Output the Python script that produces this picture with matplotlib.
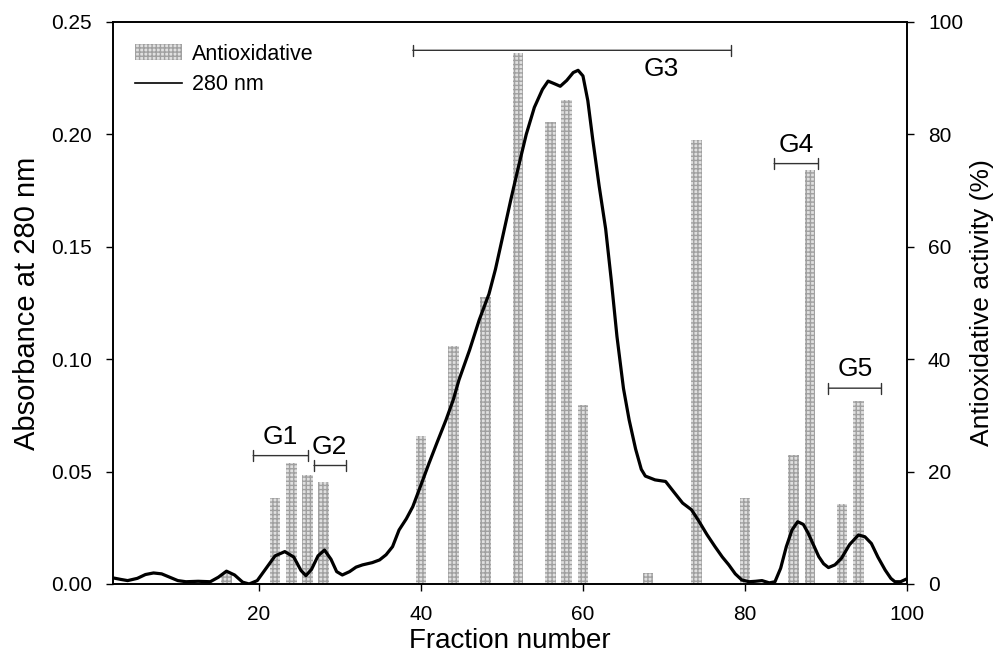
import matplotlib
matplotlib.use("Agg")
import matplotlib.pyplot as plt
from matplotlib.patches import Patch
from matplotlib.lines import Line2D

plt.rcParams['font.family'] = ['Liberation Sans', 'DejaVu Sans']

# antioxidative activity (%) per fraction
fractions = [16, 22, 24, 26, 28, 40, 44, 48, 52, 56, 58, 60, 68, 74, 80, 86, 88, 92, 94]
activity = [2.0, 15.3, 21.5, 19.4, 18.2, 26.4, 42.3, 51.1, 94.4, 82.2, 86.2, 31.9,
            1.9, 79.0, 15.3, 23.0, 73.7, 14.2, 32.5]

# absorbance at 280 nm
abs_x = [2.0, 3.0, 3.8, 5.0, 6.0, 7.0, 8.0, 9.0, 10.0, 11.0, 12.5, 14.0, 15.0, 16.0,
         17.0, 18.0, 18.8, 19.8, 21.0, 22.0, 23.2, 24.3, 25.2, 25.8, 26.5, 27.3, 28.1,
         28.9, 29.6, 30.3, 31.2, 32.0, 32.8, 34.0, 34.9, 35.7, 36.5, 37.3, 38.2, 39.0,
         40.0, 41.0, 42.0, 43.1, 44.0, 44.7, 46.0, 47.2, 48.4, 49.2, 50.0, 51.1, 52.0,
         53.0, 54.0, 55.0, 55.7, 56.5, 57.2, 58.0, 58.8, 59.4, 60.0, 60.6, 61.2, 62.0,
         62.8, 63.5, 64.2, 65.0, 65.7, 66.5, 67.2, 67.7, 68.9, 70.2, 71.2, 72.3, 73.4,
         74.3, 75.3, 76.3, 77.2, 78.0, 78.8, 79.6, 80.5, 81.3, 82.1, 83.0, 83.7, 84.4,
         85.1, 85.8, 86.5, 87.2, 87.8, 88.5, 89.1, 89.7, 90.3, 91.1, 91.9, 92.9, 94.0,
         94.8, 95.6, 96.4, 97.3, 98.0, 98.5, 99.2, 99.8]
abs_y = [0.0027, 0.0020, 0.0015, 0.0025, 0.0042, 0.0049, 0.0045, 0.0030, 0.0015, 0.0010,
         0.0012, 0.0010, 0.0030, 0.0057, 0.0040, 0.0008, 0.0000, 0.0015, 0.0075, 0.0125,
         0.0144, 0.0120, 0.0060, 0.0037, 0.0065, 0.0125, 0.0151, 0.0110, 0.0055, 0.0040,
         0.0055, 0.0075, 0.0085, 0.0095, 0.0107, 0.0130, 0.0166, 0.0240, 0.0290, 0.0344,
         0.0440, 0.0537, 0.0630, 0.0730, 0.0820, 0.0908, 0.1040, 0.1175, 0.1290, 0.1400,
         0.1530, 0.1710, 0.1850, 0.2000, 0.2120, 0.2200, 0.2237, 0.2225, 0.2214, 0.2240,
         0.2275, 0.2285, 0.2260, 0.2150, 0.1980, 0.1770, 0.1580, 0.1350, 0.1100, 0.0870,
         0.0730, 0.0600, 0.0510, 0.0480, 0.0463, 0.0456, 0.0410, 0.0360, 0.0330, 0.0280,
         0.0220, 0.0166, 0.0120, 0.0085, 0.0045, 0.0018, 0.0010, 0.0012, 0.0015, 0.0005,
         0.0010, 0.0070, 0.0166, 0.0240, 0.0277, 0.0265, 0.0226, 0.0170, 0.0122, 0.0090,
         0.0073, 0.0085, 0.0114, 0.0175, 0.0218, 0.0210, 0.0180, 0.0120, 0.0062, 0.0025,
         0.0010, 0.0010, 0.0020]

# pooled groups: label, start, end, bracket level (absorbance units)
groups = ["G1", "G2", "G3", "G4", "G5"]
g_start = [19.3, 26.8, 39.0, 83.6, 90.3]
g_end = [26.1, 30.7, 78.3, 89.0, 96.8]
g_level = [0.0571, 0.0527, 0.2374, 0.1870, 0.0871]

fig = plt.figure(figsize=(9.95, 6.58), dpi=100)
ax = fig.add_axes([0.1136, 0.1125, 0.7980, 0.8541])
ax2 = ax.twinx()

# bars on the right axis, drawn underneath the absorbance trace
ax2.bar(fractions, activity, width=1.3, color='#e0e0e0', edgecolor='#a0a0a0',
        hatch='++++', linewidth=0)
ax2.set_ylim(0, 100)
ax2.set_yticks([0, 20, 40, 60, 80, 100])
ax2.set_ylabel("Antioxidative activity (%)", fontsize=19, labelpad=5)

ax.plot(abs_x, abs_y, color='black', lw=2.3)
ax.set_zorder(ax2.get_zorder() + 1)
ax.patch.set_visible(False)

ax.set_xlim(2, 100)
ax.set_ylim(0, 0.25)
ax.set_xticks([20, 40, 60, 80, 100])
ax.set_yticks([0, 0.05, 0.10, 0.15, 0.20, 0.25])
ax.set_yticklabels(["0.00", "0.05", "0.10", "0.15", "0.20", "0.25"])
ax.set_xlabel("Fraction number", fontsize=20, labelpad=3)
ax.set_ylabel("Absorbance at 280 nm", fontsize=21, labelpad=7)

for a in (ax, ax2):
    a.tick_params(labelsize=15, length=5, width=1, direction='out', pad=10)
    for s in a.spines.values():
        s.set_linewidth(1.2)

for lab, x0, x1, lv in zip(groups, g_start, g_end, g_level):
    ax.annotate('', xy=(x0, lv), xytext=(x1, lv),
                arrowprops=dict(arrowstyle='|-|,widthA=0.4,widthB=0.4',
                                lw=1, color='#333333', shrinkA=0, shrinkB=0))
    if lab == "G3":
        ax.text(69.7, lv - 0.003, lab, ha='center', va='top', fontsize=19)
    else:
        ax.text((x0 + x1) / 2, lv + 0.003, lab, ha='center', va='bottom', fontsize=19)

handles = [Patch(facecolor='#e0e0e0', edgecolor='#a0a0a0', hatch='++++', linewidth=0),
           Line2D([], [], color='black', lw=1.2)]
ax.legend(handles, ["Antioxidative", "280 nm"], loc='upper left', frameon=False,
          fontsize=15.5, handlelength=2.2, handleheight=0.7, borderaxespad=0.6,
          labelspacing=0.45, handletextpad=0.45, bbox_to_anchor=(0.0, 1.0))

fig.savefig("out.png", dpi=100)
